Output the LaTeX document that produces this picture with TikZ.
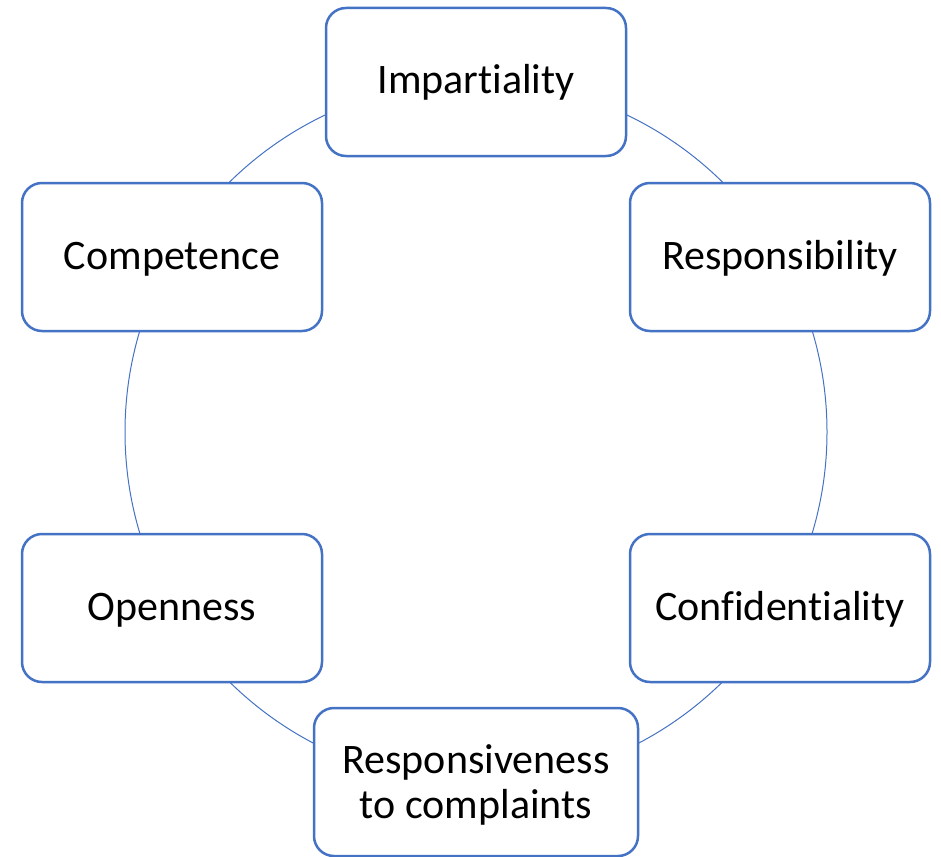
\documentclass[tikz,border=0pt]{standalone}
\usepackage{fontspec}
\setmainfont[Ligatures={NoCommon,NoRare,NoContextual}]{Carlito}
\newcommand{\nolig}{\kern0pt }
\definecolor{acc}{HTML}{4472C4}
\begin{document}
\begin{tikzpicture}[x=1pt,y=-1pt,
  box/.style={draw=acc, line width=2.5pt, fill=white, rounded corners=20pt,
    minimum width=300pt, minimum height=148pt, inner sep=0pt, align=center,
    text height=32pt, text depth=8pt,
    font=\fontsize{42}{45}\selectfont}]
\useasboundingbox (0,0) rectangle (941,856);
\begin{scope}
\clip (0,0) rectangle (941,856);
\node[draw=acc, line width=1pt, circle, minimum size=702pt, inner sep=0pt] (ring) at (476,432) {};
\node[box] (imp) at (476,82) {Impart\nolig iality};
\node[box] (comp) at (172,257) {Competence};
\node[box] (resp) at (780,257) {Responsibility};
\node[box] (open) at (172,608) {Openness};
\node[box] (conf) at (780,608) {Conf\nolig ident\nolig iality};
\node[box, minimum width=324pt, text height=80pt, text depth=8pt] (rc) at (476,782) {Responsiveness\\to complaints};
\end{scope}
\end{tikzpicture}
\end{document}
